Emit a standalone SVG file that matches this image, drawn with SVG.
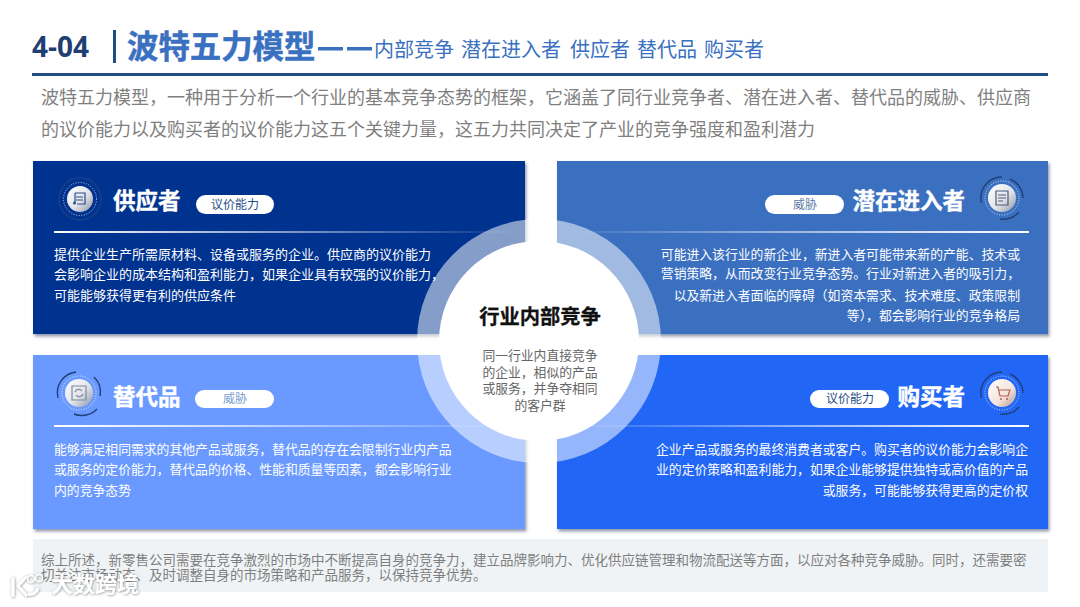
<svg xmlns="http://www.w3.org/2000/svg" width="1080" height="607" viewBox="0 0 1080 607">
<style>
text{font-family:"Noto Sans CJK SC","Liberation Sans",sans-serif}
.intro{font-size:18px;fill:#7f7f7f}
.body{font-size:13px;fill:#fff}
.b2{font-size:12.83px;fill:#fff}
.r{text-anchor:end}
.ct{font-size:22.5px;font-weight:700;fill:#fff;stroke:#fff;stroke-width:.4}
.pt{font-size:12px;text-anchor:middle}
.sum{font-size:13.5px;fill:#7f7f7f}
.cb{font-size:12.8px;fill:#666;text-anchor:middle}
.sub{font-size:20px;fill:#3a70c0}
.card{filter:url(#sh)}
.dot{fill:none;stroke:#fff;stroke-opacity:.75;stroke-width:1;stroke-dasharray:1 1.6}
.arc{fill:none;stroke-width:1.4}
.ig{fill:none;stroke-width:1.2}
</style>
<defs>
<filter id="sh" x="-5%" y="-5%" width="110%" height="115%"><feDropShadow dx="1.5" dy="2.5" stdDeviation="1.5" flood-color="#3a4a6a" flood-opacity=".55"/></filter>
<filter id="wm" x="-10%" y="-20%" width="120%" height="140%"><feDropShadow dx="0.5" dy="0.5" stdDeviation="1" flood-color="#555" flood-opacity=".7"/></filter>
<linearGradient id="fr" x1="0" x2="1" y1="0" y2="0"><stop offset="0" stop-color="#fff"/><stop offset="1" stop-color="#fff" stop-opacity="0"/></linearGradient>
<linearGradient id="fl" x1="1" x2="0" y1="0" y2="0"><stop offset="0" stop-color="#fff"/><stop offset="1" stop-color="#fff" stop-opacity="0"/></linearGradient>
<linearGradient id="disc" x1="0" y1="0" x2="1" y2="1"><stop offset="0" stop-color="#fff"/><stop offset=".55" stop-color="#e2e4ea"/><stop offset="1" stop-color="#8c93a6"/></linearGradient>
<linearGradient id="disc2" x1="0" y1="0" x2="1" y2="1"><stop offset="0" stop-color="#fff"/><stop offset=".6" stop-color="#f3e3dc"/><stop offset="1" stop-color="#b0948c"/></linearGradient>
</defs>

<g id="header">
<text x="32" y="57" font-size="28" font-weight="700" fill="#1f3f73" style="font-family:'Open Sans','Liberation Sans',sans-serif">4-04</text>
<rect x="113" y="30" width="3" height="33" fill="#1f4e87"/>
<text x="127" y="58" font-size="31.4" font-weight="700" fill="#3a70c0" stroke="#3a70c0" stroke-width=".5">波特五力模型</text>
<rect x="318" y="47" width="25" height="3.500" fill="#3a70c0"/><rect x="347" y="47" width="25" height="3.500" fill="#3a70c0"/>
<text class="sub" x="374" y="57">内部竞争</text>
<text class="sub" x="461" y="57">潜在进入者</text>
<text class="sub" x="570" y="57">供应者</text>
<text class="sub" x="637" y="57">替代品</text>
<text class="sub" x="704" y="57">购买者</text>
<rect x="32" y="73" width="1016" height="3" fill="#1f4e87"/>
</g>

<g id="intro">
<text class="intro" x="41" y="104">波特五力模型，一种用于分析一个行业的基本竞争态势的框架，它涵盖了同行业竞争者、潜在进入者、替代品的威胁、供应商</text>
<text class="intro" x="41" y="136">的议价能力以及购买者的议价能力这五个关键力量，这五力共同决定了产业的竞争强度和盈利潜力</text>
</g>

<rect class="card" x="33" y="161" width="492" height="173" fill="#00308f"/>
<rect class="card" x="557" y="161" width="491" height="173" fill="#3a6fc0"/>
<rect class="card" x="33" y="355" width="492" height="174" fill="#6a9aff"/>
<rect class="card" x="557" y="355" width="491" height="174" fill="#2166f6"/>

<g id="center-ring">
<circle cx="539" cy="341" r="122" fill="#fff" fill-opacity=".52"/>
<circle cx="539" cy="341" r="100" fill="#fff"/>
</g>

<g id="node-supplier">
<circle cx="80" cy="199" r="21" class="arc" stroke="#1a3f8a"/>
<circle cx="80" cy="199" r="16.5" class="dot"/>
<circle cx="80" cy="199" r="13" fill="url(#disc)"/>
<path class="ig" stroke="#2a4a8a" d="M75 193h10v11h-8M75 193v9M76 197h7M76 200h7"/><circle cx="74.500" cy="203" r="1.500" fill="#2a4a8a"/>
<text class="ct" x="113" y="209">供应者</text>
<rect x="196" y="195" width="78" height="19" rx="9.500" fill="#fff"/>
<text class="pt" x="235" y="209" fill="#1f4e87">议价能力</text>
<rect x="54" y="231" width="470" height="2" fill="url(#fr)"/>
<text class="body" x="54" y="258.500">提供企业生产所需原材料、设备或服务的企业。供应商的议价能力</text>
<text class="body" x="54" y="278.500">会影响企业的成本结构和盈利能力，如果企业具有较强的议价能力，</text>
<text class="body" x="54" y="299.500">可能能够获得更有利的供应条件</text>
</g>

<g id="node-entrant">
<path class="arc" stroke="#22407a" d="M981.500 203A21 21 0 0 1 1002 177M1010 179A21 21 0 0 1 1023 198M1019 212A21 21 0 0 1 1000 219"/>
<circle cx="1002" cy="198" r="17" class="dot"/>
<circle cx="1002" cy="198" r="14" fill="url(#disc)"/>
<path class="ig" stroke="#4a5a78" d="M996 191h12v14h-12zM998 195h8M998 198h8M998 201h5"/>
<text class="ct r" x="965" y="209">潜在进入者</text>
<rect x="765" y="195" width="79" height="19" rx="9.500" fill="#fff"/>
<text class="pt" x="805" y="209" fill="#5b7aa8">威胁</text>
<rect x="558" y="231" width="471" height="2" fill="url(#fl)"/>
<text class="b2 r" x="1020" y="258.500">可能进入该行业的新企业，新进入者可能带来新的产能、技术或</text>
<text class="b2 r" x="1020" y="278">营销策略，从而改变行业竞争态势。行业对新进入者的吸引力，</text>
<text class="b2 r" x="1020" y="299.500">以及新进入者面临的障碍（如资本需求、技术难度、政策限制</text>
<text class="b2 r" x="1020" y="320">等），都会影响行业的竞争格局</text>
</g>

<g id="node-substitute">
<path class="arc" stroke="#22407a" d="M58 398A21 21 0 0 1 76 372M94 377A21 21 0 0 1 100 396M97 409A21 21 0 0 1 74 414"/>
<circle cx="79" cy="393" r="17" class="dot"/>
<circle cx="79" cy="393" r="14" fill="url(#disc)"/>
<path class="ig" stroke="#7d8aa0" d="M72 386h14v14h-14zM75 392a4 4 0 0 1 7-1M83 394a4 4 0 0 1-7 1"/>
<text class="ct" x="113" y="405">替代品</text>
<rect x="195" y="390" width="79" height="18" rx="9" fill="#fff"/>
<text class="pt" x="235" y="403" fill="#7a9fd0">威胁</text>
<rect x="54" y="425" width="470" height="2" fill="url(#fr)"/>
<text class="b2" x="54" y="453.500">能够满足相同需求的其他产品或服务，替代品的存在会限制行业内产品</text>
<text class="b2" x="54" y="473.500">或服务的定价能力，替代品的价格、性能和质量等因素，都会影响行业</text>
<text class="b2" x="54" y="494.500">内的竞争态势</text>
</g>

<g id="node-buyer">
<path class="arc" stroke="#22407a" d="M981.500 398A21 21 0 0 1 1002 372M1010 374A21 21 0 0 1 1023 393M1019 407A21 21 0 0 1 1000 414"/>
<circle cx="1002" cy="393" r="17" class="dot"/>
<circle cx="1002" cy="393" r="14" fill="url(#disc2)"/>
<path class="ig" stroke="#b5604f" d="M996 387h2l2 9h8l2-6h-11"/><circle cx="1001" cy="399" r="1" fill="#b5604f"/><circle cx="1007" cy="399" r="1" fill="#b5604f"/>
<text class="ct r" x="965" y="405">购买者</text>
<rect x="810" y="390" width="79" height="18" rx="9" fill="#fff"/>
<text class="pt" x="850" y="403" fill="#1f4e87">议价能力</text>
<rect x="558" y="425" width="471" height="2" fill="url(#fl)"/>
<text class="b2 r" x="1028" y="453.500">企业产品或服务的最终消费者或客户。购买者的议价能力会影响企</text>
<text class="b2 r" x="1028" y="473.500">业的定价策略和盈利能力，如果企业能够提供独特或高价值的产品</text>
<text class="b2 r" x="1028" y="494.500">或服务，可能能够获得更高的定价权</text>
</g>

<g id="node-center">
<text x="540" y="324" font-size="20.300" font-weight="700" fill="#111" text-anchor="middle" stroke="#111" stroke-width=".3">行业内部竞争</text>
<text class="cb" x="540" y="360">同一行业内直接竞争</text>
<text class="cb" x="540" y="377">的企业，相似的产品</text>
<text class="cb" x="540" y="393">或服务，并争夺相同</text>
<text class="cb" x="540" y="410">的客户群</text>
</g>

<g id="summary">
<rect x="33" y="539" width="1015" height="53" fill="#f0f3f5"/>
<text class="sum" x="41" y="565">综上所述，新零售公司需要在竞争激烈的市场中不断提高自身的竞争力，建立品牌影响力、优化供应链管理和物流配送等方面，以应对各种竞争威胁。同时，还需要密</text>
<text class="sum" x="41" y="580">切关注市场动态、及时调整自身的市场策略和产品服务，以保持竞争优势。</text>
</g>

<g id="watermark" filter="url(#wm)">
<path d="M13 577v20M27 576l-9 10 9 10M38 588a8 8 0 0 1-10 6" fill="none" stroke="#fff" stroke-width="3"/>
<circle cx="31" cy="579" r="3.500" fill="none" stroke="#fff" stroke-width="1.500"/><circle cx="39" cy="578" r="3.500" fill="none" stroke="#fff" stroke-width="1.500"/>
<text x="51" y="592" font-size="22" font-weight="700" fill="#fff">大数跨境</text>
</g>
</svg>
